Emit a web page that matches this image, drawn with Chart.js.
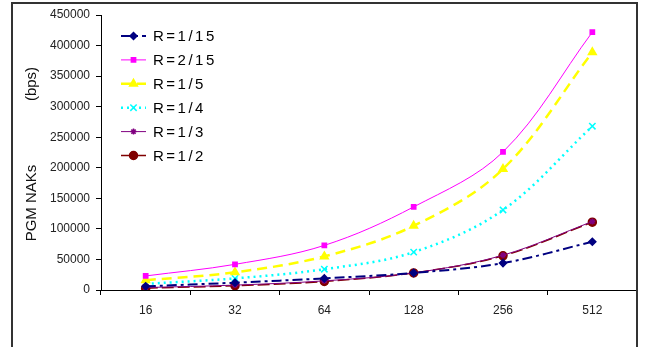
<!DOCTYPE html>
<html>
<head>
<meta charset="utf-8">
<script src="https://cdn.jsdelivr.net/npm/chart.js@4/dist/chart.umd.min.js"></script>
<style>
  html, body { margin: 0; padding: 0; background: #fff; }
  #wrap { width: 645px; height: 347px; }
</style>
</head>
<body>
<div id="wrap"><canvas id="nakChart" width="645" height="347"></canvas></div>
<script>
// group sizes on the x axis
const groupSizes = ['16', '32', '64', '128', '256', '512'];

// NAK rate (bps) per code rate
const r1_15 = [6000, 12000, 19000, 28000, 44000, 79000];
const r2_15 = [23000, 42000, 73000, 136000, 226000, 422000];
const r1_5 = [16000, 29000, 55000, 105000, 198000, 389000];
const r1_4 = [10000, 19000, 34000, 62000, 131000, 268000];
const r1_3 = [4000, 8000, 15000, 28000, 57000, 112000];
const r1_2 = [3000, 7000, 14000, 28000, 56000, 111000];

const seriesNames = ['R=1/15', 'R=2/15', 'R=1/5', 'R=1/4', 'R=1/3', 'R=1/2'];

const fontFam = '"Liberation Sans", Arial, sans-serif';

// draws the outer frame, the two y-title pieces and the legend inside the plot
const extrasPlugin = {
  id: 'extras',
  beforeDraw(chart) {
    const ctx = chart.ctx;
    ctx.save();
    ctx.fillStyle = '#fff';
    ctx.fillRect(0, 0, chart.width, chart.height);
    ctx.restore();
  },
  afterDraw(chart) {
    const ctx = chart.ctx;
    ctx.save();
    // frame
    ctx.strokeStyle = '#333';
    ctx.lineWidth = 2;
    ctx.strokeRect(12, 3, 625, 360);

    // y axis title
    ctx.fillStyle = '#111';
    ctx.font = '15px ' + fontFam;
    ctx.textAlign = 'center';
    ctx.textBaseline = 'middle';
    ctx.save();
    ctx.translate(32, 203);
    ctx.rotate(-Math.PI / 2);
    ctx.fillText('PGM NAKs', 0, 0);
    ctx.restore();
    ctx.save();
    ctx.translate(32, 84);
    ctx.rotate(-Math.PI / 2);
    ctx.fillText('(bps)', 0, 0);
    ctx.restore();

    // legend
    const x0 = 121, x1 = 146, tx = 153;
    chart.data.datasets.forEach((ds, i) => {
      const y = 36 + i * 23.9;
      ctx.save();
      ctx.strokeStyle = ds.borderColor;
      ctx.fillStyle = ds.borderColor;
      ctx.lineWidth = ds.borderWidth;
      ctx.setLineDash(ds.borderDash || []);
      ctx.beginPath();
      ctx.moveTo(x0, y);
      ctx.lineTo(x1, y);
      ctx.stroke();
      ctx.setLineDash([]);
      ctx.lineWidth = 1.5;
      Chart.helpers.drawPoint(ctx, {
        pointStyle: ds.pointStyle,
        radius: ds.pointRadius,
        borderWidth: 1.5
      }, (x0 + x1) / 2, y);
      ctx.restore();
      ctx.save();
      ctx.fillStyle = '#000';
      ctx.font = '15px ' + fontFam;
      ctx.letterSpacing = '2.5px';
      ctx.textAlign = 'left';
      ctx.textBaseline = 'middle';
      ctx.fillText(ds.label, tx, y + 1);
      ctx.restore();
    });
    ctx.restore();
  }
};

function line(label, data, color, width, dash, pstyle, prad) {
  return {
    label: label,
    data: data,
    borderColor: color,
    backgroundColor: color,
    pointBackgroundColor: color,
    pointBorderColor: color,
    borderWidth: width,
    borderDash: dash,
    pointStyle: pstyle,
    pointRadius: prad,
    pointBorderWidth: 1.5,
    tension: 0.35,
    fill: false
  };
}

const chart = new Chart(document.getElementById('nakChart'), {
  type: 'line',
  data: {
    labels: groupSizes,
    datasets: [
      line(seriesNames[0], r1_15, '#000080', 2, [10, 4, 3, 4], 'rectRot', 3.5),
      line(seriesNames[1], r2_15, '#FF00FF', 1, [], 'rect', 3),
      line(seriesNames[2], r1_5, '#FFFF00', 2.5, [10, 6], 'triangle', 4.5),
      line(seriesNames[3], r1_4, '#00FFFF', 2.5, [2, 4], 'crossRot', 4.5),
      line(seriesNames[4], r1_3, '#800080', 1, [], 'star', 3),
      line(seriesNames[5], r1_2, '#800000', 1.5, [12, 4], 'circle', 4)
    ]
  },
  options: {
    responsive: false,
    animation: false,
    layout: { padding: { left: 0, right: 8, top: 15, bottom: 0 } },
    plugins: {
      legend: { display: false },
      tooltip: { enabled: false }
    },
    scales: {
      x: {
        offset: true,
        grid: {
          offset: true,
          drawOnChartArea: false,
          drawTicks: true,
          tickLength: 5,
          color: '#000'
        },
        border: { color: '#000', width: 1 },
        ticks: {
          color: '#222',
          font: { family: fontFam, size: 12 },
          padding: 8,
          maxRotation: 0
        },
        afterFit(scale) { scale.height = 57; }
      },
      y: {
        min: 0,
        max: 450000,
        grid: {
          drawOnChartArea: false,
          drawTicks: true,
          tickLength: 5,
          color: '#000'
        },
        border: { color: '#000', width: 1 },
        ticks: {
          stepSize: 50000,
          color: '#222',
          font: { family: fontFam, size: 12 },
          padding: 6,
          callback: (v) => String(v)
        },
        afterFit(scale) { scale.width = 101; }
      }
    }
  },
  plugins: [extrasPlugin]
});
</script>
</body>
</html>
